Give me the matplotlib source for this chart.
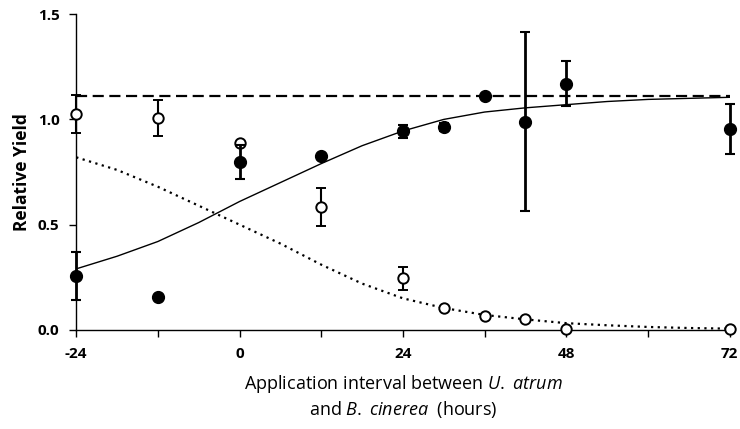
import numpy as np
import matplotlib
matplotlib.use("Agg")
import matplotlib.pyplot as plt

# --- data ---
hours_filled = [-24, -12, 0, 12, 24, 30, 36, 42, 48, 72]
yield_filled = [0.256, 0.157, 0.797, 0.826, 0.944, 0.963, 1.11, 0.99, 1.17, 0.954]
err_filled = [0.115, 0.0, 0.08, 0.0, 0.03, 0.02, 0.0, 0.425, 0.107, 0.12]

hours_open = [-24, -12, 0, 12, 24, 30, 36, 42, 48, 72]
yield_open = [1.025, 1.006, 0.887, 0.584, 0.246, 0.104, 0.066, 0.052, 0.005, 0.005]
err_open = [0.09, 0.085, 0.0, 0.09, 0.055, 0.0, 0.0, 0.0, 0.0, 0.0]

# fitted curves, every 6 h
curve_hours = [-24, -18, -12, -6, 0, 6, 12, 18, 24, 30, 36, 42, 48, 54, 60, 66, 72]
curve_rise = [0.29, 0.35, 0.42, 0.51, 0.61, 0.70, 0.79, 0.875, 0.945, 1.0, 1.035,
              1.055, 1.07, 1.085, 1.095, 1.10, 1.105]
curve_fall = [0.82, 0.76, 0.68, 0.59, 0.50, 0.41, 0.31, 0.22, 0.15, 0.104, 0.071,
              0.05, 0.032, 0.022, 0.014, 0.009, 0.006]

control_level = 1.11
x_ticks = [-24, 0, 24, 48, 72]
x_minor = [-12, 12, 36, 60]
y_ticks = [0.0, 0.5, 1.0, 1.5]

# --- style ---
plt.rcParams['font.family'] = ['Open Sans', 'DejaVu Sans']
plt.rcParams['axes.unicode_minus'] = False
plt.rcParams['mathtext.fontset'] = 'custom'
plt.rcParams['mathtext.rm'] = 'Open Sans'
plt.rcParams['mathtext.it'] = 'Open Sans:italic'

fig = plt.figure(figsize=(7.4, 4.29), dpi=100)
ax = fig.add_axes([0.103, 0.231, 0.883, 0.736])

ax.plot([curve_hours[0], curve_hours[-1]], [control_level, control_level],
        color='black', lw=1.6, ls=(0, (5, 2.5)), zorder=2)
ax.plot(curve_hours, curve_rise, color='black', lw=1.0, zorder=2)
ax.plot(curve_hours, curve_fall, color='black', lw=1.6, ls=(0, (1, 2)), zorder=2)

ax.errorbar(hours_open, yield_open, yerr=err_open, fmt='o', ms=7.5,
            mfc='white', mec='black', mew=1.4, ecolor='black', elinewidth=1.5,
            capsize=3.5, capthick=1.5, clip_on=False, zorder=4)
ax.errorbar(hours_filled, yield_filled, yerr=err_filled, fmt='o', ms=8.5,
            mfc='black', mec='black', ecolor='black', elinewidth=2.0,
            capsize=3.5, capthick=1.5, clip_on=False, zorder=5)

ax.set_xlim(-24, 72)
ax.set_ylim(0, 1.5)
ax.set_xticks(x_ticks)
ax.set_xticks(x_minor, minor=True)
ax.set_yticks(y_ticks)
ax.set_yticklabels([f"{v:.1f}" for v in y_ticks])

for side in ['top', 'right']:
    ax.spines[side].set_visible(False)
ax.spines['left'].set_linewidth(1.0)
ax.spines['bottom'].set_linewidth(1.0)
ax.tick_params(axis='both', which='major', length=5, width=1.0,
               labelsize=11, pad=7)
ax.tick_params(axis='x', which='minor', length=5, width=1.0)
for lbl in ax.get_xticklabels() + ax.get_yticklabels():
    lbl.set_fontweight('bold')

ax.set_ylabel("Relative Yield", fontsize=12.5, fontweight='bold', labelpad=5)
ax.set_xlabel("Application interval between $\\mathit{U.}$ $\\mathit{atrum}$\n"
              "and $\\mathit{B.}$ $\\mathit{cinerea}$  (hours)",
              fontsize=13, labelpad=9, linespacing=1.25)

fig.savefig("out.png", dpi=100)
